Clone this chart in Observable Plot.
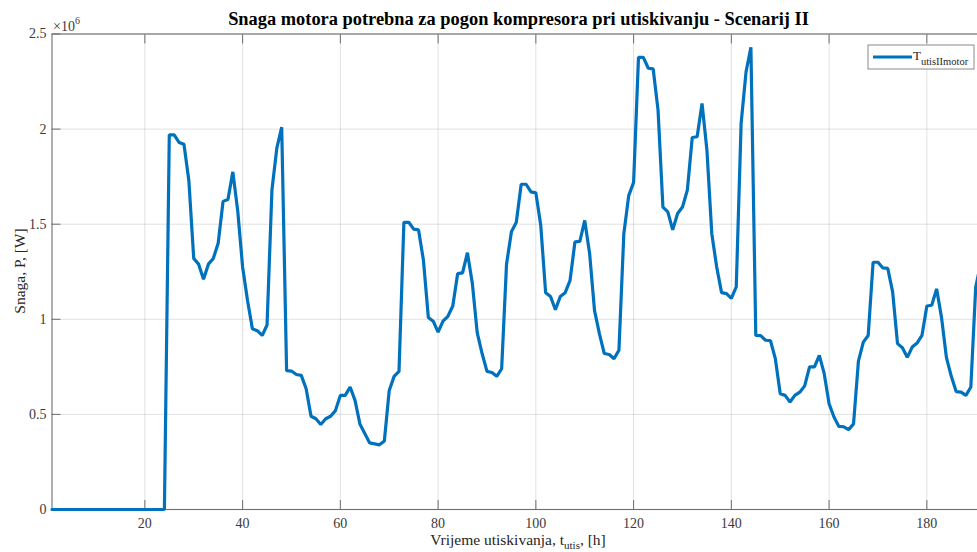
<!DOCTYPE html>
<html><head><meta charset="utf-8">
<script src="https://cdn.jsdelivr.net/npm/d3@7"></script>
<script src="https://cdn.jsdelivr.net/npm/@observablehq/plot@0.6"></script>
<style>
html,body{margin:0;padding:0;background:#fff;}
#chart{width:977px;height:552px;overflow:hidden;position:relative;}
</style>
</head><body><div id="chart"></div>
<script>
// Power (units of 10^6 W), one value per hour starting at hour 1
const power = [
  0,0,0,0,0,0,0,0,0,0,0,0,0,0,0,0,0,0,0,0,0,0,0,0,
  1.97,1.97,1.93,1.92,1.73,1.32,
  1.29,1.21,1.29,1.32,1.40,1.62,1.63,1.775,1.57,1.275,
  1.10,0.95,0.94,0.915,0.97,1.68,1.90,2.01,0.73,0.728,
  0.71,0.705,0.635,0.49,0.477,0.447,0.477,0.49,0.52,0.60,
  0.60,0.644,0.574,0.45,0.40,0.35,0.345,0.34,0.36,0.626,
  0.70,0.726,1.51,1.51,1.474,1.47,1.31,1.01,0.99,0.933,
  0.99,1.016,1.07,1.24,1.244,1.35,1.19,0.93,0.82,0.726,
  0.72,0.70,0.74,1.29,1.46,1.51,1.71,1.71,1.67,1.665,
  1.495,1.14,1.12,1.05,1.12,1.14,1.205,1.407,1.41,1.52,
  1.346,1.047,0.925,0.82,0.815,0.793,0.837,1.45,1.65,1.72,
  2.377,2.377,2.32,2.317,2.10,1.59,1.565,1.47,1.556,1.59,
  1.68,1.956,1.96,2.135,1.89,1.45,1.275,1.14,1.135,1.11,
  1.17,2.03,2.30,2.43,0.915,0.914,0.89,0.888,0.793,0.609,
  0.60,0.565,0.60,0.617,0.65,0.75,0.75,0.81,0.714,0.556,
  0.486,0.437,0.435,0.42,0.45,0.78,0.88,0.915,1.30,1.30,
  1.27,1.268,1.144,0.872,0.85,0.80,0.854,0.875,0.915,1.07,
  1.074,1.16,1.01,0.80,0.70,0.62,0.617,0.60,0.644,1.17,
  1.29
];
const xTicks = [20, 40, 60, 80, 100, 120, 140, 160, 180];
const xTickLabels = ["20", "40", "60", "80", "100", "120", "140", "160", "180"];
const yTicks = [0, 0.5, 1, 1.5, 2, 2.5];
const yTickLabels = ["0", "0.5", "1", "1.5", "2", "2.5"];
const titleText = "Snaga motora potrebna za pogon kompresora pri utiskivanju - Scenarij II";
const xLabelParts = ["Vrijeme utiskivanja, t", "utis", ", [h]"];
const yLabelText = "Snaga, P, [W]";
const legendMain = "T";
const legendSub = "utisIImotor";

const data = power.map((p, i) => ({hour: i + 1, p}));
const font = "'Liberation Serif', 'Times New Roman', serif";
const axisColor = "#6e6e6e";
const textColor = "#3a3a3a";
const lineColor = "#0072BD";
const tk = 9;

const chart = Plot.plot({
  width: 977, height: 552,
  marginLeft: 51.5, marginRight: -8, marginTop: 33.5, marginBottom: 43,
  style: {fontFamily: font, fontSize: "14px", color: textColor, background: "#fff", overflow: "hidden"},
  x: {domain: [1, 192]},
  y: {domain: [0, 2.5]},
  marks: [
    Plot.gridX(xTicks, {stroke: "#000", strokeOpacity: 0.12}),
    Plot.gridY(yTicks, {stroke: "#000", strokeOpacity: 0.12}),
    Plot.axisX(xTicks, {anchor: "bottom", tickSize: 0, tickPadding: 9, tickFormat: d => xTickLabels[xTicks.indexOf(d)], label: null, fill: textColor}),
    Plot.axisX(xTicks, {anchor: "bottom", tickSize: tk, dy: -tk, tickFormat: () => "", label: null, stroke: axisColor}),
    Plot.axisX(xTicks, {anchor: "top", tickSize: tk, dy: tk, tickFormat: () => "", label: null, stroke: axisColor}),
    Plot.axisY(yTicks, {anchor: "left", tickSize: 0, tickPadding: 5.5, tickFormat: d => yTickLabels[yTicks.indexOf(d)], label: null, fill: textColor}),
    Plot.axisY(yTicks, {anchor: "left", tickSize: tk, dx: tk, tickFormat: () => "", label: null, stroke: axisColor}),
    Plot.axisY(yTicks, {anchor: "right", tickSize: tk, dx: -tk, tickFormat: () => "", label: null, stroke: axisColor}),
    Plot.frame({stroke: axisColor, strokeWidth: 1.1}),
    Plot.line(data, {x: "hour", y: "p", stroke: lineColor, strokeWidth: 3.2, strokeLinejoin: "miter"})
  ]
});
document.getElementById("chart").appendChild(chart);

const svg = d3.select(chart);
// Title
svg.append("text").attr("x", 518.5).attr("y", 25).attr("text-anchor", "middle")
  .attr("font-family", font).attr("font-weight", "bold").attr("font-size", 18.4).attr("fill", "#000")
  .text(titleText);
// x label with subscript
const xl = svg.append("text").attr("x", 518).attr("y", 545).attr("text-anchor", "middle")
  .attr("font-family", font).attr("font-size", 15.5).attr("fill", "#262626");
xl.append("tspan").text(xLabelParts[0]);
xl.append("tspan").attr("font-size", 11).attr("dy", 4).text(xLabelParts[1]);
xl.append("tspan").attr("dy", -4).text(xLabelParts[2]);
// y label
svg.append("text").attr("transform", "translate(25,271) rotate(-90)").attr("text-anchor", "middle")
  .attr("font-family", font).attr("font-size", 15.5).attr("fill", "#262626").text(yLabelText);
// exponent
const ex = svg.append("text").attr("x", 53).attr("y", 31).attr("text-anchor", "start")
  .attr("font-family", font).attr("font-size", 14).attr("fill", textColor);
ex.append("tspan").text("\u00d710");
ex.append("tspan").attr("font-size", 10).attr("dy", -7).text("6");
// legend
const lg = svg.append("g");
lg.append("rect").attr("x", 868).attr("y", 45).attr("width", 106).attr("height", 24)
  .attr("fill", "#fff").attr("stroke", "#8a8a8a").attr("stroke-width", 1);
lg.append("line").attr("x1", 873).attr("x2", 912).attr("y1", 57).attr("y2", 57)
  .attr("stroke", lineColor).attr("stroke-width", 3.2);
const lt = lg.append("text").attr("x", 913).attr("y", 59.5).attr("text-anchor", "start")
  .attr("font-family", font).attr("font-size", 13).attr("fill", "#262626");
lt.append("tspan").text(legendMain);
lt.append("tspan").attr("font-size", 10.5).attr("dy", 5).text(legendSub);
</script>
</body></html>
